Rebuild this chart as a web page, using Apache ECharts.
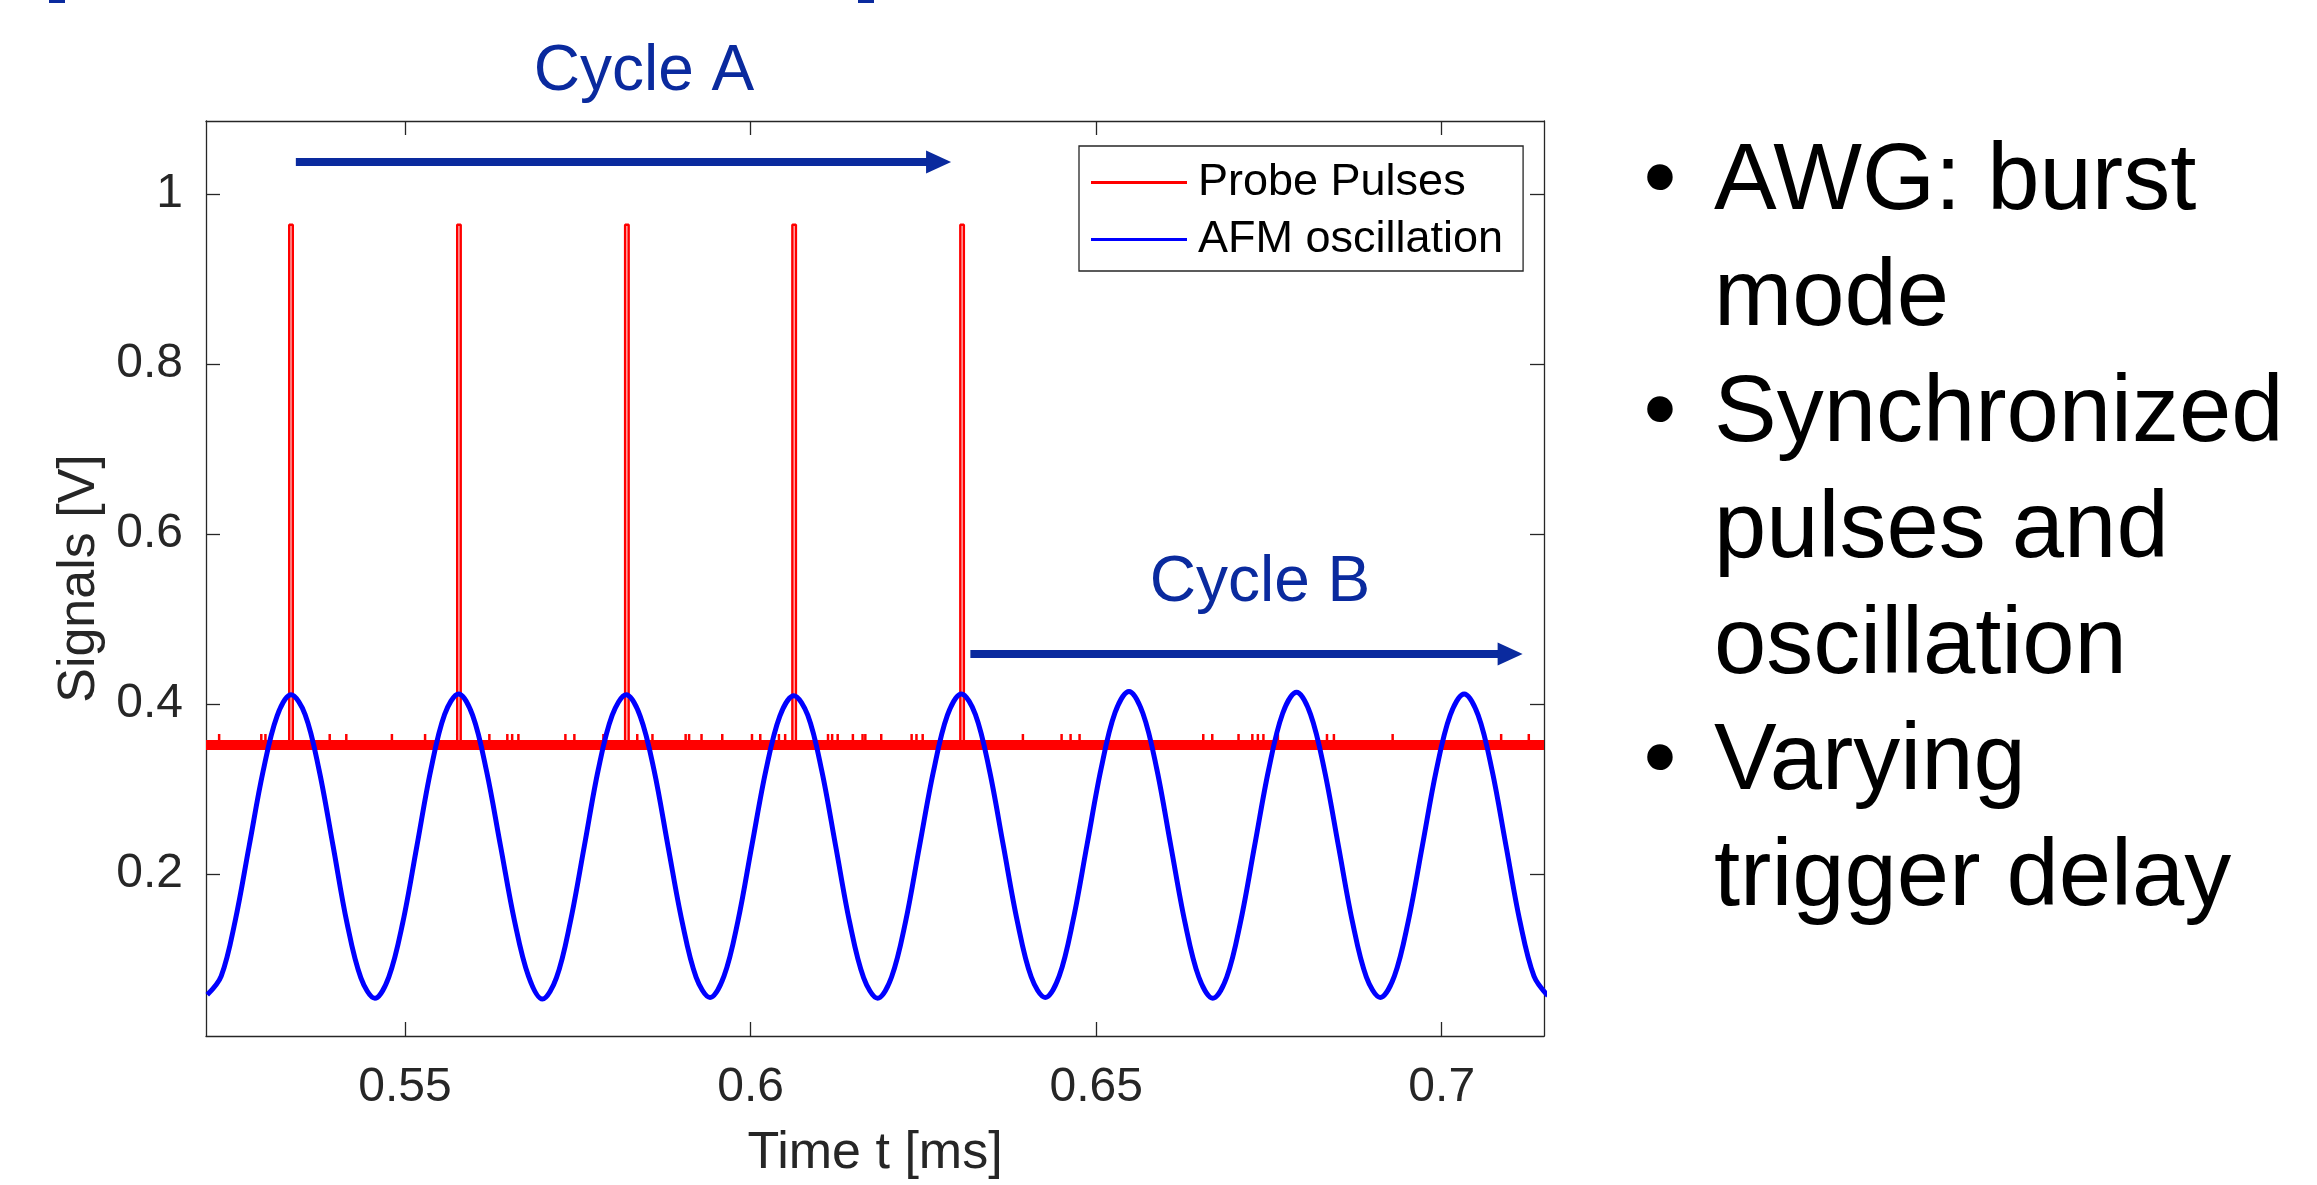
<!DOCTYPE html>
<html>
<head>
<meta charset="utf-8">
<title>Probe pulses and AFM oscillation</title>
<script src="https://cdn.jsdelivr.net/npm/echarts@6.0.0/dist/echarts.min.js"></script>
<style>
  html, body { margin: 0; padding: 0; background: #fff; }
  #chart { width: 2317px; height: 1185px; }
</style>
</head>
<body>
<div id="chart"></div>
<script>
// ---- data (time in ms, signal in V) ----
const xTicks = [0.55, 0.6, 0.65, 0.7];
const yTicks = [0.2, 0.4, 0.6, 0.8, 1];
const timeRange = [0.5212, 0.7148];
const signalRange = [0.0096, 1.0861];

// probe channel: flat level, five short pulses, small glitches on the baseline
const probeLevel = 0.352;
const pulseTimes = [0.5335, 0.5578, 0.5821, 0.6063, 0.6306];
const pulseTops = [0.964, 0.964, 0.964, 0.964, 0.964];
const pulseHalfWidth = 0.00025;
const glitchTimes = [0.5231, 0.5292, 0.5298, 0.5391, 0.5415, 0.5481, 0.5529, 0.5622, 0.5648,
  0.5655, 0.5664, 0.5732, 0.5745, 0.5787, 0.5836, 0.5858, 0.5906, 0.5911, 0.5929, 0.5959,
  0.6002, 0.6014, 0.6041, 0.6050, 0.6112, 0.6118, 0.6126, 0.6148, 0.6162, 0.6166, 0.6189,
  0.6233, 0.6240, 0.6249, 0.6394, 0.6450, 0.6463, 0.6476, 0.6655, 0.6668, 0.6706, 0.6726,
  0.6734, 0.6742, 0.6763, 0.6834, 0.6844, 0.6929, 0.7062, 0.7086, 0.7126];
const glitchTop = 0.365;

// AFM oscillation samples
const afmTimes = [0.52138, 0.52340, 0.52542, 0.52744, 0.52946, 0.53148, 0.53350, 0.53553,
  0.53755, 0.53957, 0.54159, 0.54361, 0.54563, 0.54765, 0.54967, 0.55169, 0.55371, 0.55573,
  0.55775, 0.55977, 0.56180, 0.56382, 0.56584, 0.56786, 0.56988, 0.57190, 0.57392, 0.57594,
  0.57796, 0.57998, 0.58200, 0.58402, 0.58604, 0.58807, 0.59009, 0.59211, 0.59413, 0.59615,
  0.59817, 0.60019, 0.60221, 0.60423, 0.60625, 0.60827, 0.61029, 0.61231, 0.61434, 0.61636,
  0.61838, 0.62040, 0.62242, 0.62444, 0.62646, 0.62848, 0.63050, 0.63252, 0.63454, 0.63656,
  0.63858, 0.64061, 0.64263, 0.64465, 0.64667, 0.64869, 0.65071, 0.65273, 0.65475, 0.65677,
  0.65879, 0.66081, 0.66283, 0.66485, 0.66688, 0.66890, 0.67092, 0.67294, 0.67496, 0.67698,
  0.67900, 0.68102, 0.68304, 0.68506, 0.68708, 0.68910, 0.69112, 0.69315, 0.69517, 0.69719,
  0.69921, 0.70123, 0.70325, 0.70527, 0.70729, 0.70931, 0.71133, 0.71335, 0.71537];
const afmValues = [0.058, 0.080, 0.145, 0.233, 0.321, 0.386, 0.411, 0.388, 0.323, 0.234, 0.143, 0.078,
  0.054, 0.079, 0.143, 0.232, 0.322, 0.388, 0.412, 0.387, 0.321, 0.233, 0.145, 0.080,
  0.053, 0.078, 0.144, 0.233, 0.323, 0.387, 0.411, 0.386, 0.322, 0.232, 0.144, 0.079,
  0.055, 0.080, 0.145, 0.234, 0.322, 0.386, 0.410, 0.387, 0.322, 0.233, 0.143, 0.078,
  0.054, 0.079, 0.144, 0.233, 0.321, 0.387, 0.412, 0.388, 0.323, 0.234, 0.145, 0.079,
  0.055, 0.080, 0.146, 0.235, 0.324, 0.390, 0.415, 0.389, 0.323, 0.233, 0.144, 0.079,
  0.054, 0.079, 0.145, 0.234, 0.323, 0.389, 0.414, 0.388, 0.322, 0.233, 0.144, 0.079,
  0.055, 0.080, 0.145, 0.233, 0.322, 0.387, 0.412, 0.387, 0.322, 0.233, 0.144, 0.080,
  0.057];

// cycle arrows: [start time, end time, level]
const cycleA = [0.5342, 0.6272, 1.038];
const cycleB = [0.6318, 0.7099, 0.4589];

const bullets = ['AWG: burst', 'mode', 'Synchronized', 'pulses and', 'oscillation', 'Varying', 'trigger delay'];
const bulletStarts = [0, 2, 5]; // lines that carry a bullet

// ---- build series data ----
const events = [];
glitchTimes.forEach(t => events.push({ t: t, kind: 'g' }));
pulseTimes.forEach((t, i) => events.push({ t: t, kind: 'p', top: pulseTops[i] }));
events.sort((a, b) => a.t - b.t);

const probeData = [[timeRange[0], probeLevel]];
events.forEach(e => {
  if (e.kind === 'g') {
    probeData.push([e.t, probeLevel], [e.t, glitchTop], [e.t, probeLevel]);
  } else {
    probeData.push([e.t - pulseHalfWidth, probeLevel], [e.t - pulseHalfWidth, e.top],
      [e.t + pulseHalfWidth, e.top], [e.t + pulseHalfWidth, probeLevel]);
  }
});
probeData.push([timeRange[1], probeLevel]);

const afmData = afmTimes.map((t, i) => [t, afmValues[i]]);

const FONT = '"Liberation Sans", Arial, Helvetica, sans-serif';
const AXIS_COLOR = '#262626';
const ARROW_COLOR = '#0a2a9e';

const chart = echarts.init(document.getElementById('chart'));

const axisCommon = {
  type: 'value',
  axisLine: { show: true, onZero: false, lineStyle: { color: AXIS_COLOR, width: 1.3 } },
  splitLine: { show: false }
};

// bullet text on the right
const bulletGraphics = [];
bullets.forEach((line, i) => {
  const y = 183 + 116 * i;
  bulletGraphics.push({
    type: 'text',
    style: { text: line, x: 1714, y: y, font: '94px ' + FONT, fill: '#000', textAlign: 'left', verticalAlign: 'middle', textVerticalAlign: 'middle' }
  });
  if (bulletStarts.indexOf(i) >= 0) {
    bulletGraphics.push({
      type: 'text',
      style: { text: '\u2022', x: 1660, y: y, font: '94px ' + FONT, fill: '#000', textAlign: 'center', verticalAlign: 'middle', textVerticalAlign: 'middle' }
    });
  }
});

const option = {
  animation: false,
  backgroundColor: '#fff',
  grid: { left: 206, right: 773, top: 121, bottom: 149, containLabel: false },
  legend: {
    orient: 'vertical',
    left: 1079, top: 146,
    padding: [14, 20, 9, 12],
    itemGap: 12,
    itemWidth: 96, itemHeight: 3,
    icon: 'rect',
    selectedMode: false,
    backgroundColor: '#fff',
    borderColor: AXIS_COLOR, borderWidth: 1.3, borderRadius: 0,
    textStyle: { fontSize: 45, fontFamily: FONT, color: '#000', padding: [0, 0, 0, 6] },
    data: ['Probe Pulses', 'AFM oscillation']
  },
  xAxis: [
    Object.assign({}, axisCommon, {
      position: 'bottom', min: timeRange[0], max: timeRange[1],
      axisTick: { show: true, inside: true, length: 14, customValues: xTicks, lineStyle: { color: AXIS_COLOR, width: 1.3 } },
      axisLabel: { show: true, customValues: xTicks, fontSize: 48, fontFamily: FONT, color: AXIS_COLOR, margin: 28 },
      name: 'Time t [ms]', nameLocation: 'middle', nameGap: 92,
      nameTextStyle: { fontSize: 52, fontFamily: FONT, color: AXIS_COLOR }
    }),
    Object.assign({}, axisCommon, {
      position: 'top', min: timeRange[0], max: timeRange[1],
      axisTick: { show: true, inside: true, length: 14, customValues: xTicks, lineStyle: { color: AXIS_COLOR, width: 1.3 } },
      axisLabel: { show: false }
    })
  ],
  yAxis: [
    Object.assign({}, axisCommon, {
      position: 'left', min: signalRange[0], max: signalRange[1],
      axisTick: { show: true, inside: true, length: 14, customValues: yTicks, lineStyle: { color: AXIS_COLOR, width: 1.3 } },
      axisLabel: { show: true, customValues: yTicks, fontSize: 48, fontFamily: FONT, color: AXIS_COLOR, margin: 23 },
      name: 'Signals [V]', nameLocation: 'middle', nameGap: 96,
      nameTextStyle: { fontSize: 52, fontFamily: FONT, color: AXIS_COLOR }
    }),
    Object.assign({}, axisCommon, {
      position: 'right', min: signalRange[0], max: signalRange[1],
      axisTick: { show: true, inside: true, length: 14, customValues: yTicks, lineStyle: { color: AXIS_COLOR, width: 1.3 } },
      axisLabel: { show: false }
    })
  ],
  series: [
    {
      name: 'Probe Pulses', type: 'line',
      data: [[timeRange[0], probeLevel], [timeRange[1], probeLevel]],
      showSymbol: false, symbol: 'none', silent: true,
      lineStyle: { color: '#ff0000', width: 10 },
      itemStyle: { color: '#ff0000' },
      markLine: {
        silent: true, animation: false,
        symbol: ['none', 'triangle'], symbolSize: [23, 25],
        label: { show: false },
        lineStyle: { color: ARROW_COLOR, width: 8, type: 'solid' },
        emphasis: { disabled: true },
        data: [
          [{ coord: [cycleA[0], cycleA[2]] }, { coord: [cycleA[1], cycleA[2]] }],
          [{ coord: [cycleB[0], cycleB[2]] }, { coord: [cycleB[1], cycleB[2]] }]
        ]
      }
    },
    {
      name: 'Probe Pulses', type: 'line',
      data: probeData,
      showSymbol: false, symbol: 'none', silent: true,
      lineStyle: { color: '#ff0000', width: 2.5 },
      itemStyle: { color: '#ff0000' }
    },
    {
      name: 'AFM oscillation', type: 'line',
      data: afmData,
      smooth: 0.35,
      showSymbol: false, symbol: 'none', silent: true,
      lineStyle: { color: '#0000ff', width: 5 },
      itemStyle: { color: '#0000ff' }
    }
  ],
  graphic: [
    { type: 'rect', shape: { x: 49, y: 0, width: 16, height: 3 }, style: { fill: ARROW_COLOR } },
    { type: 'rect', shape: { x: 858, y: 0, width: 16, height: 3 }, style: { fill: ARROW_COLOR } },
    { type: 'text', style: { text: 'Cycle A', x: 644, y: 72, font: '64px ' + FONT, fill: ARROW_COLOR, textAlign: 'center', verticalAlign: 'middle', textVerticalAlign: 'middle' } },
    { type: 'text', style: { text: 'Cycle B', x: 1260, y: 583, font: '64px ' + FONT, fill: ARROW_COLOR, textAlign: 'center', verticalAlign: 'middle', textVerticalAlign: 'middle' } }
  ].concat(bulletGraphics)
};

chart.setOption(option);
</script>
</body>
</html>
